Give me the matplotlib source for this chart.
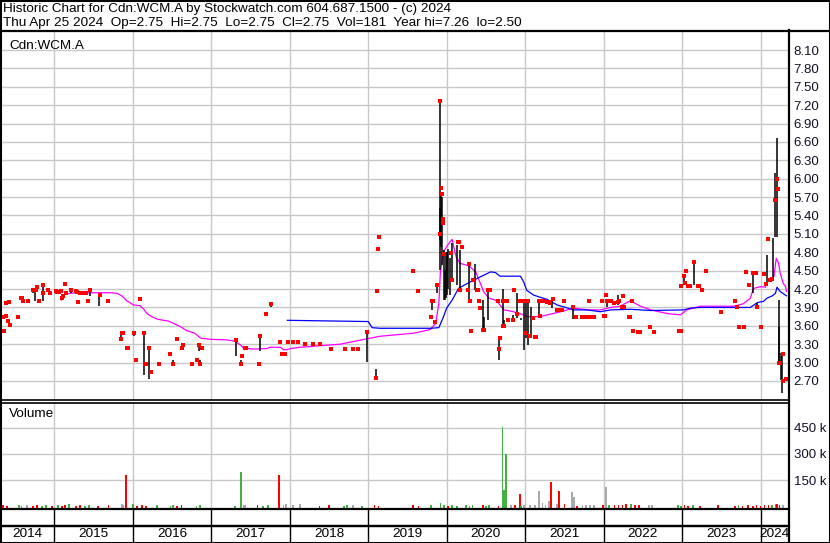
import matplotlib
matplotlib.use("Agg")
import matplotlib.pyplot as plt
from matplotlib.lines import Line2D
from matplotlib.patches import Rectangle

plt.rcParams['font.family'] = ['Liberation Sans', 'DejaVu Sans']

# ---- data (dates as decimal years) ----
title_line1 = "Historic Chart for Cdn:WCM.A by Stockwatch.com 604.687.1500 - (c) 2024"
title_line2 = "Thu Apr 25 2024  Op=2.75  Hi=2.75  Lo=2.75  Cl=2.75  Vol=181  Year hi=7.26  lo=2.50"
symbol = "Cdn:WCM.A"

years = [2014, 2015, 2016, 2017, 2018, 2019, 2020, 2021, 2022, 2023, 2024]
price_ticks = [2.70, 3.00, 3.30, 3.60, 3.90, 4.20, 4.50, 4.80, 5.10, 5.40,
               5.70, 6.00, 6.30, 6.60, 6.90, 7.20, 7.50, 7.80, 8.10]
vol_ticks = [150, 300, 450]

# closing prices (red squares)
close_dates = [
    2014.34, 2014.35, 2014.36, 2014.38, 2014.39, 2014.41, 2014.42, 2014.44, 2014.54, 2014.58,
    2014.59, 2014.60, 2014.66, 2014.73, 2014.76, 2014.78, 2014.80, 2014.85, 2014.86, 2014.92,
    2014.95, 2015.02, 2015.04, 2015.06, 2015.08, 2015.10, 2015.11, 2015.13, 2015.15, 2015.21,
    2015.27, 2015.29, 2015.30, 2015.33, 2015.35, 2015.40, 2015.43, 2015.46, 2015.58, 2015.69,
    2015.85, 2015.86, 2015.88, 2015.93, 2015.94, 2016.01, 2016.04, 2016.09, 2016.14, 2016.16,
    2016.17, 2016.21, 2016.23, 2016.33, 2016.48, 2016.51, 2016.56, 2016.63, 2016.64, 2016.76,
    2016.82, 2016.84, 2016.85, 2016.88, 2017.31, 2017.38, 2017.39, 2017.43, 2017.44, 2017.61,
    2017.62, 2017.70, 2017.76, 2017.88, 2017.90, 2017.93, 2017.94, 2017.98, 2018.04, 2018.10,
    2018.11, 2018.20, 2018.29, 2018.39, 2018.52, 2018.71, 2018.80, 2018.87, 2018.99, 2019.10,
    2019.11, 2019.13, 2019.14, 2019.57, 2019.63, 2019.80, 2019.81, 2019.82, 2019.85, 2019.88,
    2019.91, 2019.92, 2019.93, 2019.935, 2019.95, 2019.955, 2019.96, 2020.05, 2020.06, 2020.07,
    2020.15, 2020.16, 2020.17, 2020.19, 2020.27, 2020.28, 2020.30, 2020.31, 2020.34, 2020.39,
    2020.40, 2020.41, 2020.42, 2020.46, 2020.48, 2020.53, 2020.55, 2020.65, 2020.67, 2020.68,
    2020.72, 2020.73, 2020.715, 2020.77, 2020.78, 2020.84, 2020.86, 2020.90, 2020.94, 2020.99,
    2021.00, 2021.04, 2021.06, 2021.10, 2021.13, 2021.14, 2021.18, 2021.19, 2021.20, 2021.23,
    2021.24, 2021.28, 2021.30, 2021.32, 2021.35, 2021.41, 2021.45, 2021.47, 2021.50, 2021.61,
    2021.65, 2021.72, 2021.77, 2021.78, 2021.80, 2021.82, 2021.84, 2021.86, 2021.88, 2021.98,
    2022.01, 2022.02, 2022.03, 2022.04, 2022.09, 2022.13, 2022.18, 2022.19, 2022.24, 2022.25,
    2022.26, 2022.32, 2022.33, 2022.36, 2022.38, 2022.44, 2022.46, 2022.59, 2022.64, 2022.96,
    2022.98, 2022.99, 2023.03, 2023.04, 2023.05, 2023.08, 2023.10, 2023.15, 2023.20, 2023.22,
    2023.25, 2023.30, 2023.49, 2023.68, 2023.70, 2023.72, 2023.73, 2023.79, 2023.81, 2023.85,
    2023.90, 2023.92, 2023.94, 2023.96, 2024.01, 2024.04, 2024.05, 2024.07, 2024.09, 2024.10,
    2024.11, 2024.12, 2024.14, 2024.19, 2024.21, 2024.22, 2024.24, 2024.25, 2024.28, 2024.29,
    2024.33,
]
close_prices = [
    3.75, 3.52, 3.52, 3.76, 3.98, 3.68, 3.99, 3.62, 3.75, 4.05,
    4.06, 4.01, 4.01, 4.19, 4.19, 4.23, 4.00, 4.26, 4.13, 4.18,
    4.14, 4.17, 4.16, 4.16, 4.17, 4.05, 4.09, 4.28, 4.14, 4.19,
    4.17, 4.15, 3.99, 4.13, 4.13, 4.13, 4.01, 4.19, 4.11, 4.01,
    3.39, 3.49, 3.49, 3.24, 3.24, 3.49, 3.04, 4.04, 3.49, 2.98,
    2.98, 3.24, 2.84, 2.98, 3.14, 2.98, 3.39, 3.24, 3.29, 2.98,
    3.04, 3.29, 2.98, 3.24, 3.37, 2.98, 3.10, 3.24, 3.24, 2.98,
    3.44, 3.80, 3.96, 3.34, 3.14, 3.14, 3.14, 3.34, 3.34, 3.34,
    3.34, 3.30, 3.30, 3.31, 3.22, 3.22, 3.22, 3.22, 3.50, 2.75,
    4.17, 4.85, 5.05, 4.50, 4.17, 3.75, 4.00, 4.00, 3.67, 4.26,
    5.10, 7.26, 5.85, 5.75, 5.35, 5.27, 4.78, 4.79, 4.79, 4.35,
    4.96, 4.96, 4.18, 4.88, 4.18, 4.61, 4.00, 3.52, 4.34, 4.18,
    4.18, 4.01, 3.89, 3.53, 3.53, 4.18, 4.18, 4.00, 3.22, 3.40,
    3.59, 3.59, 4.00, 4.00, 3.69, 3.69, 4.18, 3.79, 4.00, 4.00,
    3.49, 4.00, 3.43, 3.72, 3.42, 3.41, 4.00, 3.76, 4.00, 4.00,
    4.00, 3.99, 3.99, 3.98, 4.03, 3.86, 3.86, 3.86, 4.00, 3.91,
    3.75, 3.75, 3.75, 3.75, 3.75, 4.00, 3.75, 3.75, 3.75, 4.00,
    3.76, 3.76, 4.10, 4.00, 4.00, 3.97, 3.99, 4.00, 3.90, 4.09,
    3.90, 3.75, 3.75, 4.00, 3.52, 3.50, 3.50, 3.58, 3.50, 3.52,
    3.52, 4.25, 4.41, 4.30, 4.50, 4.25, 4.25, 4.64, 4.25, 4.25,
    4.18, 4.50, 3.83, 4.00, 3.90, 3.58, 3.58, 3.58, 4.48, 4.26,
    4.46, 4.46, 4.46, 3.90, 3.58, 4.44, 4.44, 4.29, 5.01, 5.01,
    4.35, 4.35, 4.36, 5.66, 5.99, 5.84, 2.99, 2.99, 3.14, 2.70,
    2.74,
]

# high-low ranges (black bars)
bar_dates = [
    2014.73, 2014.75, 2014.85, 2015.21, 2015.43, 2015.46, 2015.57,
    2015.85, 2016.01, 2016.14, 2016.21, 2016.51, 2016.84, 2016.85, 2017.31, 2017.38,
    2017.62, 2017.76, 2018.99, 2019.10,
    2019.81, 2019.88, 2019.91, 2019.92, 2019.93, 2019.94, 2019.96, 2019.98, 2019.99,
    2020.00, 2020.02, 2020.04, 2020.07, 2020.13, 2020.17, 2020.28, 2020.36, 2020.46,
    2020.47, 2020.53, 2020.67, 2020.72, 2020.73, 2020.85, 2020.90, 2020.95, 2020.98,
    2021.01, 2021.04, 2021.07, 2021.18, 2021.34, 2021.61, 2022.04, 2022.18, 2023.03,
    2023.15, 2023.91, 2023.96, 2024.08, 2024.16, 2024.19, 2024.21, 2024.23, 2024.235,
    2024.26, 2024.27,
]
bar_highs = [
    4.19, 4.20, 4.26, 4.19, 4.01, 4.19, 4.11,
    3.50, 3.49, 3.49, 3.24, 3.04, 3.30, 3.04, 3.38, 3.04,
    3.44, 3.97, 3.53, 2.90,
    4.00, 4.26, 5.52, 7.26, 5.76, 5.70, 4.83, 4.51, 4.80,
    4.80, 4.85, 4.70, 4.95, 4.92, 4.84, 4.62, 4.61, 4.02,
    3.75, 4.18, 3.40, 4.20, 3.69, 3.78, 4.13, 3.72, 3.97,
    4.00, 4.00, 3.90, 4.00, 4.00, 3.91, 4.00, 4.10, 4.41,
    4.65, 4.46, 3.98, 4.75, 5.03, 6.09, 6.66, 4.02, 3.58,
    3.15, 3.15,
]
bar_lows = [
    4.13, 4.00, 4.00, 4.14, 3.99, 4.09, 3.92,
    3.38, 3.43, 2.79, 2.74, 2.98, 3.19, 2.98, 3.10, 2.98,
    3.19, 3.90, 3.01, 2.75,
    3.86, 4.13, 4.51, 5.00, 4.89, 4.60, 4.02, 4.02, 4.05,
    4.10, 4.20, 4.10, 4.35, 4.26, 4.18, 4.00, 4.18, 3.53,
    3.53, 3.69, 3.05, 3.59, 3.62, 3.69, 3.72, 3.69, 3.20,
    3.40, 3.29, 3.40, 3.76, 3.89, 3.71, 3.90, 3.94, 4.29,
    4.26, 4.13, 3.88, 4.29, 4.35, 5.05, 5.05, 2.99, 2.99,
    2.72, 2.50,
]

# moving averages
ma_short_dates = [
    2015.09, 2015.12, 2015.16, 2015.20, 2015.29, 2015.71, 2015.80, 2015.86, 2015.92, 2016.01,
    2016.09, 2016.14, 2016.18, 2016.24, 2016.31, 2016.39, 2016.45, 2016.52, 2016.60, 2016.69,
    2016.79, 2016.86, 2016.99, 2017.20, 2017.30, 2017.37, 2017.41, 2017.54, 2017.71, 2017.75,
    2017.88, 2017.92, 2017.96, 2018.01, 2018.13, 2018.64, 2019.15, 2019.58, 2019.79, 2019.86,
    2019.90, 2019.92, 2019.96, 2020.03, 2020.07, 2020.09, 2020.12, 2020.17, 2020.28, 2020.37,
    2020.43, 2020.47, 2020.54, 2020.62, 2020.66, 2020.73, 2020.85, 2020.98, 2021.02, 2021.19,
    2021.32, 2021.45, 2021.62, 2021.79, 2021.96, 2022.09, 2022.21, 2022.34, 2022.47, 2022.60,
    2022.81, 2022.98, 2023.06, 2023.15, 2023.23, 2023.66, 2023.78, 2023.87, 2023.91, 2024.00,
    2024.06, 2024.10, 2024.17, 2024.20, 2024.23, 2024.25, 2024.29, 2024.32, 2024.33,
]
ma_short_vals = [
    4.02, 4.11, 4.12, 4.13, 4.14, 4.14, 4.13, 4.09, 4.01, 3.94,
    3.93, 3.87, 3.80, 3.75, 3.71, 3.69, 3.68, 3.64, 3.59, 3.52,
    3.48, 3.40, 3.38, 3.37, 3.35, 3.29, 3.24, 3.22, 3.23, 3.25,
    3.25, 3.21, 3.21, 3.23, 3.25, 3.30, 3.43, 3.48, 3.54, 3.64,
    3.97, 4.48, 4.81, 4.95, 5.01, 4.89, 4.73, 4.62, 4.58, 4.48,
    4.29, 4.16, 4.05, 4.02, 3.97, 3.86, 3.83, 3.78, 3.75, 3.75,
    3.79, 3.83, 3.89, 3.86, 3.86, 3.90, 3.92, 4.01, 3.92, 3.86,
    3.80, 3.78, 3.86, 3.89, 3.92, 3.92, 3.96, 4.05, 4.21, 4.24,
    4.23, 4.35, 4.40, 4.70, 4.62, 4.46, 4.29, 4.24, 4.16,
]
ma_long_dates = [
    2017.97, 2019.00, 2019.05, 2019.15, 2019.79, 2019.90, 2019.96, 2020.00, 2020.07, 2020.15,
    2020.26, 2020.43, 2020.56, 2020.62, 2020.68, 2020.94, 2020.98, 2021.02, 2021.11, 2021.28,
    2021.41, 2021.62, 2021.79, 2021.96, 2022.09, 2022.34, 2022.60, 2023.02, 2023.11, 2023.23,
    2023.87, 2023.96, 2024.04, 2024.08, 2024.15, 2024.19, 2024.21, 2024.25, 2024.33,
]
ma_long_vals = [
    3.69, 3.67, 3.57, 3.56, 3.56, 3.57, 3.75, 3.89, 4.02, 4.21,
    4.29, 4.40, 4.48, 4.47, 4.41, 4.41, 4.32, 4.18, 4.10, 4.03,
    3.94, 3.86, 3.86, 3.83, 3.86, 3.87, 3.85, 3.86, 3.89, 3.90,
    3.90, 3.98, 4.00, 4.05, 4.09, 4.13, 4.23, 4.16, 4.09,
]

# volume in thousands, direction u=up d=down f=unchanged
vol_dates = [
    2014.35, 2014.40, 2014.55, 2014.58, 2014.65, 2014.73, 2014.78, 2014.84, 2014.89, 2014.97,
    2015.05, 2015.10, 2015.14, 2015.19, 2015.28, 2015.33, 2015.39, 2015.44, 2015.56, 2015.69,
    2015.86, 2015.88, 2015.91, 2016.00, 2016.05, 2016.12, 2016.17, 2016.31, 2016.48, 2016.51,
    2016.56, 2016.62, 2016.81, 2016.86, 2017.30, 2017.38, 2017.41, 2017.43, 2017.59, 2017.66,
    2017.72, 2017.86, 2017.92, 2017.95, 2018.04, 2018.13, 2018.38, 2018.50, 2018.69, 2018.73,
    2018.81, 2018.92, 2019.08, 2019.13, 2019.57, 2019.64, 2019.80, 2019.92, 2019.97, 2020.02,
    2020.07, 2020.13, 2020.25, 2020.29, 2020.33, 2020.46, 2020.50, 2020.54, 2020.66, 2020.71,
    2020.73, 2020.76, 2020.82, 2020.87, 2020.93, 2020.95, 2020.99, 2021.06, 2021.13, 2021.18,
    2021.22, 2021.26, 2021.30, 2021.33, 2021.41, 2021.43, 2021.50, 2021.59, 2021.60, 2021.62,
    2021.66, 2021.73, 2021.78, 2021.83, 2021.88, 2021.99, 2022.03, 2022.07, 2022.14, 2022.19,
    2022.24, 2022.29, 2022.35, 2022.40, 2022.45, 2022.58, 2022.62, 2022.95, 2022.99, 2023.03,
    2023.08, 2023.14, 2023.23, 2023.46, 2023.67, 2023.72, 2023.77, 2023.84, 2023.90, 2023.95,
    2024.00, 2024.05, 2024.10, 2024.15, 2024.20, 2024.21, 2024.24, 2024.29,
]
vol_k = [
    6, 5, 6, 5, 8, 5, 6, 5, 6, 5,
    6, 5, 6, 14, 5, 6, 5, 6, 5, 6,
    14, 8, 180, 12, 5, 6, 5, 6, 5, 6,
    5, 6, 5, 6, 5, 195, 8, 8, 10, 5,
    6, 177, 10, 14, 10, 12, 5, 6, 5, 6,
    10, 5, 6, 5, 6, 5, 10, 20, 6, 5,
    6, 5, 6, 5, 6, 10, 5, 6, 5, 455,
    95, 298, 8, 6, 72, 5, 6, 8, 8, 91,
    20, 8, 33, 138, 14, 91, 12, 37, 85, 56,
    5, 8, 8, 8, 8, 10, 114, 8, 8, 10,
    8, 12, 12, 8, 6, 8, 8, 6, 5, 6,
    5, 6, 5, 6, 5, 6, 5, 6, 5, 6,
    5, 6, 8, 10, 12, 14, 8, 8,
]
vol_dir = [
    'd', 'd', 'u', 'u', 'f', 'd', 'd', 'u', 'u', 'd',
    'u', 'd', 'd', 'u', 'd', 'd', 'u', 'u', 'd', 'd',
    'f', 'f', 'd', 'u', 'd', 'd', 'd', 'u', 'u', 'u',
    'd', 'd', 'u', 'u', 'u', 'u', 'f', 'f', 'd', 'u',
    'u', 'd', 'f', 'f', 'f', 'f', 'd', 'd', 'u', 'u',
    'f', 'u', 'd', 'd', 'd', 'd', 'u', 'u', 'u', 'd',
    'u', 'u', 'u', 'u', 'u', 'd', 'u', 'u', 'd', 'u',
    'u', 'u', 'f', 'd', 'd', 'u', 'f', 'f', 'f', 'f',
    'f', 'f', 'f', 'd', 'f', 'd', 'd', 'u', 'f', 'f',
    'd', 'f', 'f', 'f', 'f', 'd', 'f', 'u', 'd', 'd',
    'd', 'd', 'u', 'd', 'd', 'f', 'f', 'u', 'u', 'd',
    'd', 'u', 'd', 'd', 'd', 'u', 'd', 'd', 'd', 'd',
    'd', 'd', 'd', 'u', 'u', 'd', 'd', 'f',
]

# ---- layout (pixel based, 830 x 543) ----
W, H = 830, 543
X0, X1 = 2014.32, 2024.35
VOL_FLOOR = -14
GRID = '#c8c8c8'
dir_color = {'u': '#44b044', 'd': '#ff0000', 'f': '#a8a8a8'}


def fx(px):
    return px / W


def fy(py):
    return 1 - py / H


def add_axes(top, bottom):
    ax = fig.add_axes([fx(1), fy(bottom), fx(788) - fx(1), fy(top) - fy(bottom)])
    for s in ax.spines.values():
        s.set_visible(False)
    ax.set_xlim(X0, X1)
    ax.set_xticks(years[1:])
    ax.tick_params(axis='x', length=0, labelbottom=False)
    return ax


fig = plt.figure(figsize=(8.3, 5.43), dpi=100)

# price panel
ax_p = add_axes(31, 400)
ax_p.set_ylim(2.39, 8.41)
ax_p.yaxis.tick_right()
ax_p.set_yticks(price_ticks)
ax_p.set_yticklabels([f"{v:.2f}" for v in price_ticks])
ax_p.tick_params(axis='y', length=0, pad=4, labelsize=9.5, labelcolor='#101028')
ax_p.grid(True, color=GRID, linewidth=1.0)
ax_p.set_axisbelow(True)

ax_p.plot(ma_short_dates, ma_short_vals, color='#ff00ff', linewidth=0.9, zorder=2)
ax_p.plot(ma_long_dates, ma_long_vals, color='#0000ff', linewidth=0.9, zorder=2)
ax_p.vlines(bar_dates, bar_lows, bar_highs, color='black', linewidth=1.1, zorder=3)
ax_p.plot(close_dates, close_prices, linestyle='none', marker='s', markersize=2.3,
          markeredgewidth=0, color='#ff0000', zorder=4)
ax_p.text(fx(8) / (fx(788) - fx(1)), 0.975, symbol, transform=ax_p.transAxes,
          fontsize=9.7, va='top', ha='left')

# volume panel
ax_v = add_axes(403, 509)
ax_v.set_ylim(VOL_FLOOR, 590)
ax_v.yaxis.tick_right()
ax_v.set_yticks(vol_ticks)
ax_v.set_yticklabels([f"{v} k" for v in vol_ticks])
ax_v.tick_params(axis='y', length=0, pad=4, labelsize=9.5, labelcolor='#101028')
ax_v.grid(True, color=GRID, linewidth=1.0)
ax_v.set_axisbelow(True)
ax_v.bar(vol_dates, [v - VOL_FLOOR for v in vol_k], bottom=VOL_FLOOR, width=0.022,
         color=[dir_color[d] for d in vol_dir], linewidth=0, zorder=3)
ax_v.text(fx(8) / (fx(788) - fx(1)), 0.95, "Volume", transform=ax_v.transAxes,
          fontsize=9.7, va='top', ha='left')

# year band
ax_y = add_axes(509, 542)
ax_y.set_ylim(0, 2)
ax_y.set_yticks([])
ax_y.axhline(1, color='black', linewidth=1.6)
ax_y.vlines(years[1:], 0, 2, color='black', linewidth=1.0)
edges = [X0] + years[1:] + [X1]
for i, yr in enumerate(years):
    ax_y.text((edges[i] + edges[i + 1]) / 2, 0.48, str(yr), ha='center', va='center',
              fontsize=9.7)

# header and frame lines
fig.text(fx(3), fy(9), title_line1, fontsize=9.7, va='center', ha='left')
fig.text(fx(3), fy(23), title_line2, fontsize=9.7, va='center', ha='left')


def hline(py, x_a, x_b, lw):
    fig.add_artist(Line2D([fx(x_a), fx(x_b)], [fy(py), fy(py)], transform=fig.transFigure,
                          color='black', linewidth=lw))


hline(30.5, 0, W, 1.6)
hline(400, 0, 789, 1.2)
hline(402.5, 0, 789, 1.2)
hline(509, 0, 789, 1.6)
hline(526, 0, 789, 1.6)
fig.add_artist(Line2D([fx(788.5), fx(788.5)], [fy(30), fy(H)], transform=fig.transFigure,
                      color='black', linewidth=1.6))
fig.add_artist(Rectangle((0, 0), 1, 1, transform=fig.transFigure, fill=False,
                         edgecolor='black', linewidth=2.2))

fig.savefig("out.png", dpi=100)
